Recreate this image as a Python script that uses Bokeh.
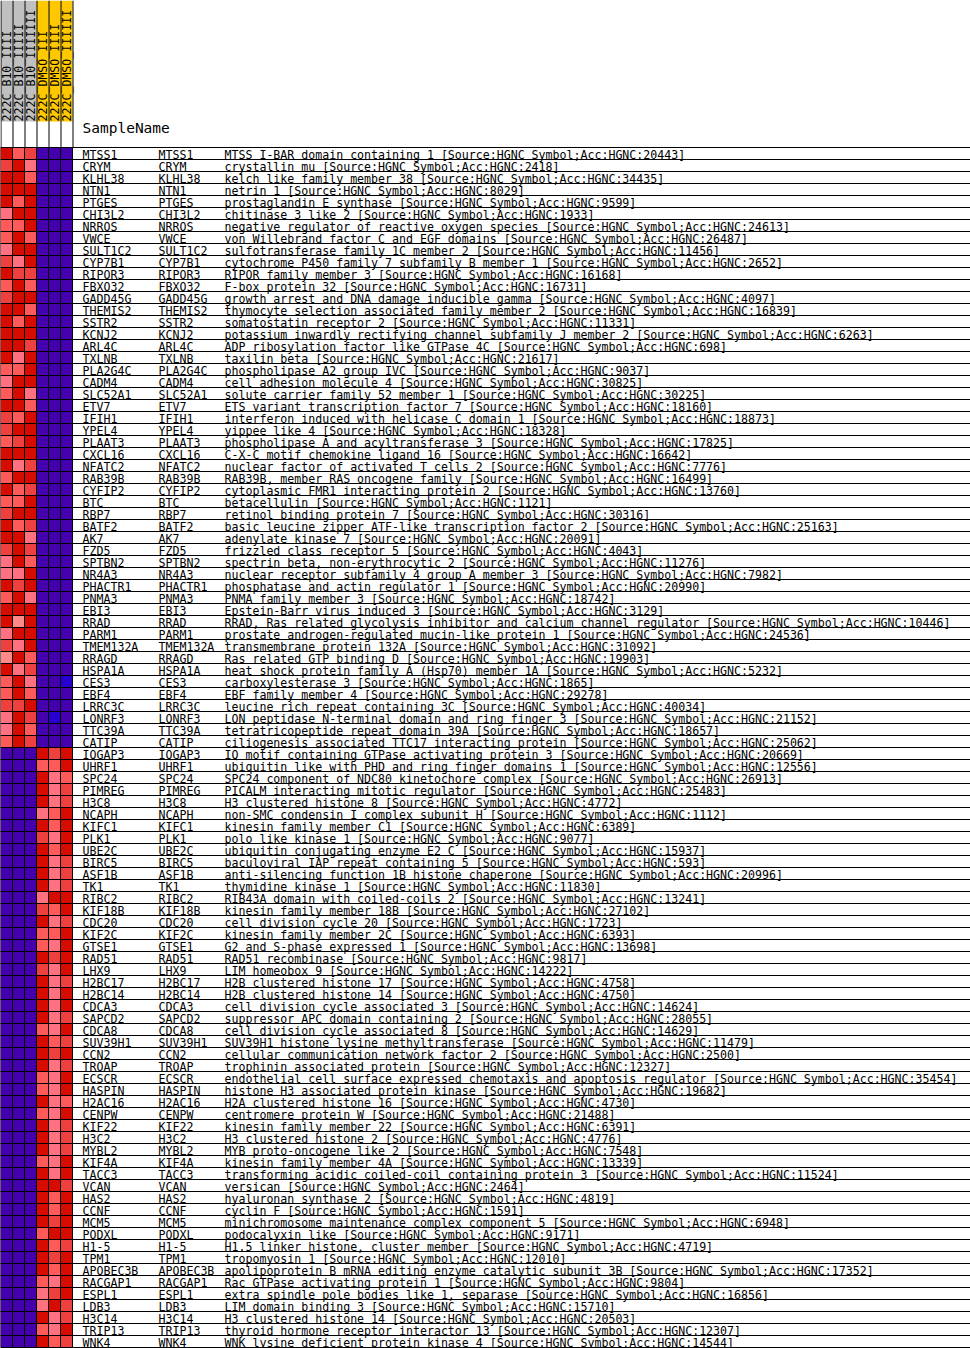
import math
from bokeh.plotting import figure
from bokeh.models import ColumnDataSource, Range1d, LinearColorMapper
from bokeh.core.properties import value
from bokeh.embed import file_html
from bokeh.resources import INLINE

# ---------------- data ----------------
samples = ["222C_B10_IIII", "222C_B10_IIIII", "222C_B10_IIIIIII",
           "222C_DMSO_III", "222C_DMSO_IIII", "222C_DMSO_IIIIII"]
sample_group_colors = ["#C0C0C0", "#C0C0C0", "#C0C0C0", "#FFC800", "#FFC800", "#FFC800"]

genes = ["MTSS1", "CRYM", "KLHL38", "NTN1", "PTGES", "CHI3L2", "NRROS", "VWCE", "SULT1C2", "CYP7B1",
         "RIPOR3", "FBXO32", "GADD45G", "THEMIS2", "SSTR2", "KCNJ2", "ARL4C", "TXLNB", "PLA2G4C", "CADM4",
         "SLC52A1", "ETV7", "IFIH1", "YPEL4", "PLAAT3", "CXCL16", "NFATC2", "RAB39B", "CYFIP2", "BTC",
         "RBP7", "BATF2", "AK7", "FZD5", "SPTBN2", "NR4A3", "PHACTR1", "PNMA3", "EBI3", "RRAD",
         "PARM1", "TMEM132A", "RRAGD", "HSPA1A", "CES3", "EBF4", "LRRC3C", "LONRF3", "TTC39A", "CATIP",
         "IQGAP3", "UHRF1", "SPC24", "PIMREG", "H3C8", "NCAPH", "KIFC1", "PLK1", "UBE2C", "BIRC5",
         "ASF1B", "TK1", "RIBC2", "KIF18B", "CDC20", "KIF2C", "GTSE1", "RAD51", "LHX9", "H2BC17",
         "H2BC14", "CDCA3", "SAPCD2", "CDCA8", "SUV39H1", "CCN2", "TROAP", "ECSCR", "HASPIN", "H2AC16",
         "CENPW", "KIF22", "H3C2", "MYBL2", "KIF4A", "TACC3", "VCAN", "HAS2", "CCNF", "MCM5",
         "PODXL", "H1-5", "TPM1", "APOBEC3B", "RACGAP1", "ESPL1", "LDB3", "H3C14", "TRIP13", "WNK4"]

descriptions = [
    "MTSS I-BAR domain containing 1 [Source:HGNC Symbol;Acc:HGNC:20443]",
    "crystallin mu [Source:HGNC Symbol;Acc:HGNC:2418]",
    "kelch like family member 38 [Source:HGNC Symbol;Acc:HGNC:34435]",
    "netrin 1 [Source:HGNC Symbol;Acc:HGNC:8029]",
    "prostaglandin E synthase [Source:HGNC Symbol;Acc:HGNC:9599]",
    "chitinase 3 like 2 [Source:HGNC Symbol;Acc:HGNC:1933]",
    "negative regulator of reactive oxygen species [Source:HGNC Symbol;Acc:HGNC:24613]",
    "von Willebrand factor C and EGF domains [Source:HGNC Symbol;Acc:HGNC:26487]",
    "sulfotransferase family 1C member 2 [Source:HGNC Symbol;Acc:HGNC:11456]",
    "cytochrome P450 family 7 subfamily B member 1 [Source:HGNC Symbol;Acc:HGNC:2652]",
    "RIPOR family member 3 [Source:HGNC Symbol;Acc:HGNC:16168]",
    "F-box protein 32 [Source:HGNC Symbol;Acc:HGNC:16731]",
    "growth arrest and DNA damage inducible gamma [Source:HGNC Symbol;Acc:HGNC:4097]",
    "thymocyte selection associated family member 2 [Source:HGNC Symbol;Acc:HGNC:16839]",
    "somatostatin receptor 2 [Source:HGNC Symbol;Acc:HGNC:11331]",
    "potassium inwardly rectifying channel subfamily J member 2 [Source:HGNC Symbol;Acc:HGNC:6263]",
    "ADP ribosylation factor like GTPase 4C [Source:HGNC Symbol;Acc:HGNC:698]",
    "taxilin beta [Source:HGNC Symbol;Acc:HGNC:21617]",
    "phospholipase A2 group IVC [Source:HGNC Symbol;Acc:HGNC:9037]",
    "cell adhesion molecule 4 [Source:HGNC Symbol;Acc:HGNC:30825]",
    "solute carrier family 52 member 1 [Source:HGNC Symbol;Acc:HGNC:30225]",
    "ETS variant transcription factor 7 [Source:HGNC Symbol;Acc:HGNC:18160]",
    "interferon induced with helicase C domain 1 [Source:HGNC Symbol;Acc:HGNC:18873]",
    "yippee like 4 [Source:HGNC Symbol;Acc:HGNC:18328]",
    "phospholipase A and acyltransferase 3 [Source:HGNC Symbol;Acc:HGNC:17825]",
    "C-X-C motif chemokine ligand 16 [Source:HGNC Symbol;Acc:HGNC:16642]",
    "nuclear factor of activated T cells 2 [Source:HGNC Symbol;Acc:HGNC:7776]",
    "RAB39B, member RAS oncogene family [Source:HGNC Symbol;Acc:HGNC:16499]",
    "cytoplasmic FMR1 interacting protein 2 [Source:HGNC Symbol;Acc:HGNC:13760]",
    "betacellulin [Source:HGNC Symbol;Acc:HGNC:1121]",
    "retinol binding protein 7 [Source:HGNC Symbol;Acc:HGNC:30316]",
    "basic leucine zipper ATF-like transcription factor 2 [Source:HGNC Symbol;Acc:HGNC:25163]",
    "adenylate kinase 7 [Source:HGNC Symbol;Acc:HGNC:20091]",
    "frizzled class receptor 5 [Source:HGNC Symbol;Acc:HGNC:4043]",
    "spectrin beta, non-erythrocytic 2 [Source:HGNC Symbol;Acc:HGNC:11276]",
    "nuclear receptor subfamily 4 group A member 3 [Source:HGNC Symbol;Acc:HGNC:7982]",
    "phosphatase and actin regulator 1 [Source:HGNC Symbol;Acc:HGNC:20990]",
    "PNMA family member 3 [Source:HGNC Symbol;Acc:HGNC:18742]",
    "Epstein-Barr virus induced 3 [Source:HGNC Symbol;Acc:HGNC:3129]",
    "RRAD, Ras related glycolysis inhibitor and calcium channel regulator [Source:HGNC Symbol;Acc:HGNC:10446]",
    "prostate androgen-regulated mucin-like protein 1 [Source:HGNC Symbol;Acc:HGNC:24536]",
    "transmembrane protein 132A [Source:HGNC Symbol;Acc:HGNC:31092]",
    "Ras related GTP binding D [Source:HGNC Symbol;Acc:HGNC:19903]",
    "heat shock protein family A (Hsp70) member 1A [Source:HGNC Symbol;Acc:HGNC:5232]",
    "carboxylesterase 3 [Source:HGNC Symbol;Acc:HGNC:1865]",
    "EBF family member 4 [Source:HGNC Symbol;Acc:HGNC:29278]",
    "leucine rich repeat containing 3C [Source:HGNC Symbol;Acc:HGNC:40034]",
    "LON peptidase N-terminal domain and ring finger 3 [Source:HGNC Symbol;Acc:HGNC:21152]",
    "tetratricopeptide repeat domain 39A [Source:HGNC Symbol;Acc:HGNC:18657]",
    "ciliogenesis associated TTC17 interacting protein [Source:HGNC Symbol;Acc:HGNC:25062]",
    "IQ motif containing GTPase activating protein 3 [Source:HGNC Symbol;Acc:HGNC:20669]",
    "ubiquitin like with PHD and ring finger domains 1 [Source:HGNC Symbol;Acc:HGNC:12556]",
    "SPC24 component of NDC80 kinetochore complex [Source:HGNC Symbol;Acc:HGNC:26913]",
    "PICALM interacting mitotic regulator [Source:HGNC Symbol;Acc:HGNC:25483]",
    "H3 clustered histone 8 [Source:HGNC Symbol;Acc:HGNC:4772]",
    "non-SMC condensin I complex subunit H [Source:HGNC Symbol;Acc:HGNC:1112]",
    "kinesin family member C1 [Source:HGNC Symbol;Acc:HGNC:6389]",
    "polo like kinase 1 [Source:HGNC Symbol;Acc:HGNC:9077]",
    "ubiquitin conjugating enzyme E2 C [Source:HGNC Symbol;Acc:HGNC:15937]",
    "baculoviral IAP repeat containing 5 [Source:HGNC Symbol;Acc:HGNC:593]",
    "anti-silencing function 1B histone chaperone [Source:HGNC Symbol;Acc:HGNC:20996]",
    "thymidine kinase 1 [Source:HGNC Symbol;Acc:HGNC:11830]",
    "RIB43A domain with coiled-coils 2 [Source:HGNC Symbol;Acc:HGNC:13241]",
    "kinesin family member 18B [Source:HGNC Symbol;Acc:HGNC:27102]",
    "cell division cycle 20 [Source:HGNC Symbol;Acc:HGNC:1723]",
    "kinesin family member 2C [Source:HGNC Symbol;Acc:HGNC:6393]",
    "G2 and S-phase expressed 1 [Source:HGNC Symbol;Acc:HGNC:13698]",
    "RAD51 recombinase [Source:HGNC Symbol;Acc:HGNC:9817]",
    "LIM homeobox 9 [Source:HGNC Symbol;Acc:HGNC:14222]",
    "H2B clustered histone 17 [Source:HGNC Symbol;Acc:HGNC:4758]",
    "H2B clustered histone 14 [Source:HGNC Symbol;Acc:HGNC:4750]",
    "cell division cycle associated 3 [Source:HGNC Symbol;Acc:HGNC:14624]",
    "suppressor APC domain containing 2 [Source:HGNC Symbol;Acc:HGNC:28055]",
    "cell division cycle associated 8 [Source:HGNC Symbol;Acc:HGNC:14629]",
    "SUV39H1 histone lysine methyltransferase [Source:HGNC Symbol;Acc:HGNC:11479]",
    "cellular communication network factor 2 [Source:HGNC Symbol;Acc:HGNC:2500]",
    "trophinin associated protein [Source:HGNC Symbol;Acc:HGNC:12327]",
    "endothelial cell surface expressed chemotaxis and apoptosis regulator [Source:HGNC Symbol;Acc:HGNC:35454]",
    "histone H3 associated protein kinase [Source:HGNC Symbol;Acc:HGNC:19682]",
    "H2A clustered histone 16 [Source:HGNC Symbol;Acc:HGNC:4730]",
    "centromere protein W [Source:HGNC Symbol;Acc:HGNC:21488]",
    "kinesin family member 22 [Source:HGNC Symbol;Acc:HGNC:6391]",
    "H3 clustered histone 2 [Source:HGNC Symbol;Acc:HGNC:4776]",
    "MYB proto-oncogene like 2 [Source:HGNC Symbol;Acc:HGNC:7548]",
    "kinesin family member 4A [Source:HGNC Symbol;Acc:HGNC:13339]",
    "transforming acidic coiled-coil containing protein 3 [Source:HGNC Symbol;Acc:HGNC:11524]",
    "versican [Source:HGNC Symbol;Acc:HGNC:2464]",
    "hyaluronan synthase 2 [Source:HGNC Symbol;Acc:HGNC:4819]",
    "cyclin F [Source:HGNC Symbol;Acc:HGNC:1591]",
    "minichromosome maintenance complex component 5 [Source:HGNC Symbol;Acc:HGNC:6948]",
    "podocalyxin like [Source:HGNC Symbol;Acc:HGNC:9171]",
    "H1.5 linker histone, cluster member [Source:HGNC Symbol;Acc:HGNC:4719]",
    "tropomyosin 1 [Source:HGNC Symbol;Acc:HGNC:12010]",
    "apolipoprotein B mRNA editing enzyme catalytic subunit 3B [Source:HGNC Symbol;Acc:HGNC:17352]",
    "Rac GTPase activating protein 1 [Source:HGNC Symbol;Acc:HGNC:9804]",
    "extra spindle pole bodies like 1, separase [Source:HGNC Symbol;Acc:HGNC:16856]",
    "LIM domain binding 3 [Source:HGNC Symbol;Acc:HGNC:15710]",
    "H3 clustered histone 14 [Source:HGNC Symbol;Acc:HGNC:20503]",
    "thyroid hormone receptor interactor 13 [Source:HGNC Symbol;Acc:HGNC:12307]",
    "WNK lysine deficient protein kinase 4 [Source:HGNC Symbol;Acc:HGNC:14544]",
]

# relative expression level per sample (0 = lowest / blue ... 11 = highest / red)
b10_1 = [11, 10, 11, 11, 11, 8, 9, 9, 8, 10, 11, 9, 10, 11, 11, 11, 11, 11, 9, 8,
         9, 11, 10, 10, 9, 11, 11, 9, 11, 9, 10, 11, 11, 10, 8, 8, 11, 9, 11, 11,
         8, 10, 7, 11, 9, 9, 10, 8, 8, 9,
         0, 0, 0, 0, 0, 0, 0, 0, 0, 0, 0, 0, 0, 0, 0, 0, 0, 0, 0, 0,
         0, 0, 0, 0, 0, 0, 0, 0, 0, 0, 0, 0, 0, 0, 0, 0, 0, 0, 0, 0,
         0, 0, 0, 0, 0, 0, 0, 0, 0, 0]
b10_2 = [9, 11, 11, 11, 9, 11, 9, 11, 11, 8, 10, 11, 11, 11, 9, 11, 11, 8, 9, 11,
         11, 11, 9, 11, 10, 11, 8, 11, 9, 9, 11, 9, 11, 11, 11, 8, 10, 11, 11, 7,
         11, 8, 11, 8, 11, 11, 10, 11, 11, 11,
         0, 0, 0, 0, 0, 0, 0, 0, 0, 0, 0, 0, 0, 0, 0, 0, 0, 0, 0, 0,
         0, 0, 0, 0, 0, 0, 0, 0, 0, 0, 0, 0, 0, 0, 0, 0, 0, 0, 0, 0,
         0, 0, 0, 0, 0, 0, 0, 0, 0, 0]
b10_3 = [10, 8, 9, 11, 11, 11, 11, 9, 11, 11, 10, 9, 11, 9, 11, 11, 10, 11, 11, 11,
         8, 9, 11, 11, 11, 11, 10, 11, 10, 11, 11, 10, 8, 10, 9, 11, 11, 8, 11, 11,
         11, 11, 9, 10, 8, 9, 11, 10, 9, 10,
         0, 0, 0, 0, 0, 0, 0, 0, 0, 0, 0, 0, 0, 0, 0, 0, 0, 0, 0, 0,
         0, 0, 0, 0, 0, 0, 0, 0, 0, 0, 0, 0, 0, 0, 0, 0, 0, 0, 0, 0,
         0, 0, 0, 0, 0, 0, 0, 0, 0, 0]
dmso_1 = [0] * 50 + [
         11, 9, 11, 11, 11, 8, 11, 10, 11, 11, 11, 11, 8, 10, 11, 9, 9, 11, 10, 11,
         11, 11, 11, 9, 11, 11, 11, 9, 9, 11, 9, 11, 11, 11, 9, 11, 11, 11, 11, 11,
         9, 11, 11, 11, 9, 8, 8, 11, 9, 11]
dmso_2 = [0] * 47 + [1, 0, 0] + [
         10, 9, 8, 8, 8, 9, 9, 8, 9, 8, 8, 8, 11, 9, 8, 9, 8, 10, 8, 8,
         8, 8, 8, 8, 9, 10, 8, 8, 8, 8, 8, 8, 8, 8, 8, 8, 11, 9, 9, 10,
         11, 9, 10, 9, 8, 10, 11, 8, 8, 9]
dmso_3 = [0] * 44 + [1] + [0] * 5 + [
         11, 11, 9, 10, 10, 11, 11, 11, 11, 10, 10, 10, 11, 11, 10, 11, 11, 11, 11, 10,
         11, 11, 10, 11, 10, 11, 10, 11, 11, 9, 11, 10, 10, 10, 11, 11, 10, 11, 11, 11,
         11, 10, 11, 11, 11, 11, 10, 10, 11, 10]

palette = ["#4500AD", "#2700D1", "#6B58EF", "#8888FF", "#C7C1FF", "#D5D5FF",
           "#FFC0E5", "#FF8989", "#FF7080", "#FF5A5A", "#EF4040", "#D60C00"]

# ---------------- layout (pixels) ----------------
W, H = 970, 1348
CELL = 12          # cell width / row height
TOP = 147          # first row top
HEADER_COLOR_BOTTOM = 121
MONO = value("DejaVu Sans Mono")
ROW_FS = 11.6
SHIFT = 0.38       # empirical baseline correction (in em)

columns = [b10_1, b10_2, b10_3, dmso_1, dmso_2, dmso_3]
n_rows = len(genes)
n_cols = len(samples)

p = figure(width=W, height=H, x_range=Range1d(0, W), y_range=Range1d(H, 0),
           toolbar_location=None, output_backend="svg", min_border=0,
           x_axis_type=None, y_axis_type=None, background_fill_color="white",
           border_fill_color="white")
p.grid.visible = False
p.outline_line_color = None

# header colour boxes
p.quad(left=[CELL * j for j in range(n_cols)], right=[CELL * (j + 1) for j in range(n_cols)],
       top=[0] * n_cols, bottom=[HEADER_COLOR_BOTTOM] * n_cols,
       fill_color=sample_group_colors, line_color=None)
# header separators
p.segment(x0=[CELL * j + 0.5 for j in range(n_cols + 1)], x1=[CELL * j + 0.5 for j in range(n_cols + 1)],
          y0=[0] * (n_cols + 1), y1=[TOP] * (n_cols + 1), line_color="black", line_width=1)
# header labels (rotated, reading upward, baseline on the right)
p.text(x=[CELL * j + 11 - SHIFT * ROW_FS for j in range(n_cols)], y=[HEADER_COLOR_BOTTOM] * n_cols,
       text=samples, angle=math.pi / 2, text_align="left", text_baseline="alphabetic",
       text_font=MONO, text_font_size=f"{ROW_FS}px", text_color="black")

p.text(x=[82], y=[133 - SHIFT * 14.5], text=["SampleName"], text_align="left",
       text_baseline="alphabetic", text_font=MONO, text_font_size="14.5px", text_color="black")

# heatmap cells
xs, ys, vals = [], [], []
for j, col in enumerate(columns):
    for i, v in enumerate(col):
        xs.append(CELL * j + CELL / 2)
        ys.append(TOP + CELL * i + CELL / 2)
        vals.append(v)
cells = ColumnDataSource(dict(x=xs, y=ys, v=vals))
mapper = LinearColorMapper(palette=palette, low=-0.5, high=11.5)
p.rect(x="x", y="y", width=CELL, height=CELL, source=cells,
       fill_color={"field": "v", "transform": mapper}, line_color="black", line_width=1)

# row separator lines
p.segment(x0=[CELL * n_cols] * (n_rows + 1), x1=[W] * (n_rows + 1),
          y0=[TOP + CELL * i for i in range(n_rows + 1)], y1=[TOP + CELL * i for i in range(n_rows + 1)],
          line_color="black", line_width=1)

# row labels
base = [TOP + CELL * (i + 1) - 0.5 - SHIFT * ROW_FS for i in range(n_rows)]
for xpos, texts in [(82, genes), (158, genes), (224, descriptions)]:
    p.text(x=[xpos] * n_rows, y=base, text=texts, text_align="left", text_baseline="alphabetic",
           text_font=MONO, text_font_size=f"{ROW_FS}px", text_color="black")

open("out.html", "w").write(file_html(p, INLINE))
